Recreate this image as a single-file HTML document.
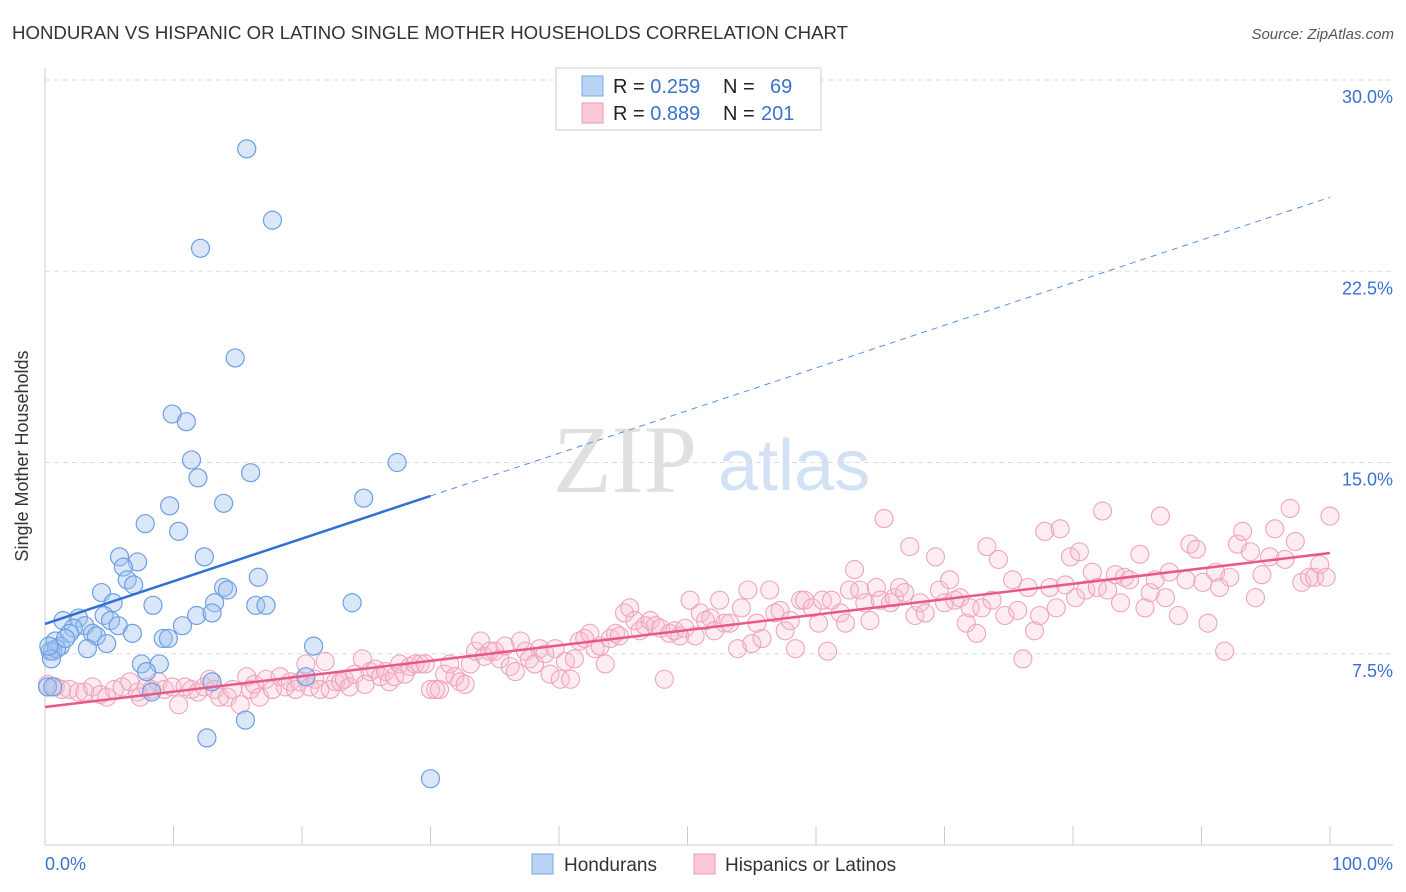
<!DOCTYPE html>
<html><head><meta charset="utf-8">
<style>
body{margin:0;background:#fff;font-family:"Liberation Sans",sans-serif;}
svg{display:block}
</style></head>
<body>
<svg id="chart" width="1406" height="892" xmlns="http://www.w3.org/2000/svg">
<text x="12" y="39" font-size="18.6" fill="#333" textLength="836" lengthAdjust="spacingAndGlyphs">HONDURAN VS HISPANIC OR LATINO SINGLE MOTHER HOUSEHOLDS CORRELATION CHART</text>
<text x="1394" y="39" font-size="15" fill="#555" font-style="italic" text-anchor="end">Source: ZipAtlas.com</text>
<g>
<text x="553" y="492" font-size="96" font-family="Liberation Serif,serif" fill="#e0e0e0">ZIP</text>
<text x="718" y="490" font-size="72" fill="#d3e1f5">atlas</text>
</g>
<g id="grid"></g>
<g id="axes"></g>
<g id="pink"></g>
<g id="blue"></g>
<g id="trends"></g>
<text x="28" y="456" font-size="18" fill="#333" text-anchor="middle" transform="rotate(-90 28 456)">Single Mother Households</text>
<g>
<rect x="556" y="68" width="265" height="62" fill="#fff" stroke="#ddd" stroke-width="1.5"/>
<rect x="582" y="76" width="21" height="20" fill="#b9d3f5" stroke="#7aa7e6"/>
<rect x="582" y="103" width="21" height="20" fill="#fbc8d7" stroke="#ee9ab4"/>
<text x="613" y="93" font-size="20" fill="#222">R = <tspan fill="#3a72d0">0.259</tspan><tspan x="723">N =</tspan><tspan x="770" fill="#3a72d0">69</tspan></text>
<text x="613" y="120" font-size="20" fill="#222">R = <tspan fill="#3a72d0">0.889</tspan><tspan x="723">N =</tspan><tspan x="761" fill="#3a72d0">201</tspan></text>
</g>
<g>
<rect x="532" y="854" width="21" height="20" fill="#b9d3f5" stroke="#7aa7e6"/>
<text x="564" y="871" font-size="19" fill="#333">Hondurans</text>
<rect x="694" y="854" width="21" height="20" fill="#fbc8d7" stroke="#ee9ab4"/>
<text x="725" y="871" font-size="19" fill="#333">Hispanics or Latinos</text>
</g>
</svg>
<script>
const yTicks=[7.5,15,22.5,30];
const yTickLabels=["7.5%","15.0%","22.5%","30.0%"];
const xTickCount=10;
const blueX=[15.7,17.7,12.1,14.8,9.9,11.0,11.4,11.9,16.0,27.4,24.8,13.9,9.7,7.8,10.4,12.4,5.8,7.2,6.1,16.6,6.4,6.9,13.9,14.2,4.4,5.3,8.4,13.2,16.4,17.2,23.9,4.6,11.8,13.0,1.4,2.6,3.1,5.1,5.7,10.7,2.2,1.9,6.8,3.7,9.2,9.6,4.0,4.8,0.8,1.2,3.3,20.9,0.4,0.6,0.9,0.5,7.5,8.9,7.9,20.3,13.0,8.3,0.2,0.6,15.6,12.6,30.0,0.3,1.6];
const blueY=[27.3,24.5,23.4,19.1,16.9,16.6,15.1,14.4,14.6,15.0,13.6,13.4,13.3,12.6,12.3,11.3,11.3,11.1,10.9,10.5,10.4,10.2,10.1,10.0,9.9,9.5,9.4,9.5,9.4,9.4,9.5,9.0,9.0,9.1,8.8,8.9,8.6,8.8,8.6,8.6,8.5,8.3,8.3,8.3,8.1,8.1,8.2,7.9,8.0,7.8,7.7,7.8,7.6,7.6,7.7,7.3,7.1,7.1,6.8,6.6,6.4,6.0,6.2,6.2,4.9,4.2,2.6,7.8,8.1];
const pinkX=[0.2,0.8,1.3,1.9,2.6,3.1,3.7,4.3,4.8,5.4,6.0,6.6,7.2,7.4,7.9,8.3,8.8,9.3,9.9,10.4,10.9,11.4,11.9,12.4,12.8,13.2,13.6,14.2,14.6,15.2,15.7,16.0,16.3,16.7,17.2,17.7,18.3,18.7,19.1,19.5,19.8,20.3,20.6,21.0,21.4,21.8,22.2,22.6,23.0,23.3,23.7,24.1,24.7,24.9,25.3,25.7,26.1,26.5,26.8,27.2,27.6,28.0,28.4,28.8,29.2,29.6,30.0,30.4,30.7,31.1,31.5,31.9,32.3,32.7,33.1,33.5,33.9,34.2,34.6,35.0,35.4,35.8,36.2,36.6,37.0,37.4,37.7,38.1,38.5,38.9,39.3,39.7,40.1,40.5,40.9,41.2,41.6,42.0,42.4,42.8,43.2,43.6,44.0,44.4,44.7,45.1,45.5,45.9,46.3,46.7,47.1,47.5,47.9,48.2,48.6,49.0,49.4,49.8,50.2,50.6,51.0,51.4,51.8,52.1,52.5,52.9,53.3,53.9,54.2,54.7,55.0,55.4,55.8,56.4,56.8,57.2,57.6,58.0,58.4,58.8,59.1,59.7,60.2,60.5,60.9,61.2,61.9,62.3,62.6,63.0,63.4,63.8,64.2,64.7,65.0,65.3,65.8,66.1,66.5,66.9,67.3,67.7,68.1,68.5,69.3,69.6,70.0,70.4,70.8,71.2,71.7,72.0,72.5,72.9,73.3,73.7,74.2,74.7,75.3,75.7,76.1,76.5,77.0,77.4,77.8,78.2,78.7,79.0,79.4,79.8,80.2,80.5,81.0,81.5,81.9,82.3,82.7,83.3,83.7,84.0,84.4,85.2,85.6,86.0,86.4,86.8,87.2,87.5,88.2,88.8,89.1,89.6,90.1,90.5,91.1,91.4,91.8,92.2,92.8,93.2,93.8,94.2,94.7,95.3,95.7,96.5,96.9,97.3,97.8,98.4,98.8,99.2,99.7,100.0];
const pinkY=[6.3,6.2,6.1,6.1,6.0,6.0,6.2,5.9,5.8,6.1,6.2,6.4,6.0,5.8,6.2,6.1,6.4,6.1,6.2,5.5,6.2,6.1,6.0,6.2,6.5,6.1,5.8,5.8,6.1,5.5,6.6,6.1,6.3,5.8,6.5,6.1,6.6,6.2,6.4,6.1,6.4,7.1,6.2,6.5,6.1,7.2,6.1,6.4,6.4,6.5,6.2,6.7,7.3,6.3,6.8,6.9,6.6,6.8,6.4,6.6,7.1,6.7,7.0,7.1,7.1,7.1,6.1,6.1,6.1,6.7,7.1,6.6,6.4,6.3,7.1,7.6,8.0,7.4,7.6,7.6,7.3,7.8,7.0,6.8,8.0,7.6,7.3,7.1,7.7,7.5,6.7,7.7,6.5,7.2,6.5,7.3,8.0,8.1,8.3,7.7,7.8,7.1,8.1,8.3,8.2,9.1,9.3,8.8,8.4,8.6,8.8,8.6,8.5,6.5,8.3,8.4,8.2,8.5,9.6,8.2,9.1,8.8,8.9,8.4,9.6,8.7,8.7,7.7,9.3,10.0,7.9,8.7,8.1,10.0,9.1,9.2,8.4,8.8,7.7,9.6,9.6,9.3,8.7,9.6,7.6,9.6,9.1,8.7,10.0,10.8,10.0,9.5,8.8,10.1,9.6,12.8,9.5,9.7,10.1,9.9,11.7,9.0,9.5,9.1,11.3,10.0,9.5,10.4,9.6,9.7,8.7,9.3,8.3,9.3,11.7,9.6,11.2,9.0,10.4,9.2,7.3,10.1,8.4,9.0,12.3,10.1,9.3,12.4,10.2,11.3,9.7,11.5,10.0,10.7,10.1,13.1,10.0,10.6,9.5,10.5,10.4,11.4,9.3,9.9,10.4,12.9,9.7,10.7,9.0,10.4,11.8,11.6,10.3,8.7,10.7,10.1,7.6,10.5,11.8,12.3,11.5,9.7,10.6,11.3,12.4,11.2,13.2,11.9,10.3,10.5,10.5,11.0,10.5,12.9];
const blueTrend=[8.67,25.4];
const pinkTrend=[5.41,11.45];
const blueSolidEnd=30;

const NS="http://www.w3.org/2000/svg";
const X0=45,X1=1330,YB=845,YT=80;
const xs=v=>X0+(X1-X0)*v/100;
const ys=v=>YB-(YB-YT)*v/30;
function mk(tag,attrs,parent){const e=document.createElementNS(NS,tag);for(const k in attrs)e.setAttribute(k,attrs[k]);parent.appendChild(e);return e;}
const grid=document.getElementById('grid'),axes=document.getElementById('axes');
yTicks.forEach((t,i)=>{
  const l=mk('line',{x1:X0,x2:1393,y1:ys(t),y2:ys(t),stroke:'#ddd','stroke-dasharray':'5,4'},grid);
  
  
  const tx=mk('text',{x:1393,y:ys(t)+23,'font-size':18,fill:'#3a72d0','text-anchor':'end'},axes);
  tx.textContent=yTickLabels[i];
  
  
});
const ya=mk('line',{x1:X0,x2:X0,y1:68,y2:YB,stroke:'#ccc'},axes);


const xa=mk('line',{x1:X0,x2:1393,y1:YB,y2:YB,stroke:'#ccc'},axes);


for(let i=1;i<=xTickCount;i++){
  const t=mk('line',{x1:xs(i*10),x2:xs(i*10),y1:826,y2:YB,stroke:'#ccc'},axes);
  
  
}
const xl0=mk('text',{x:45,y:870,'font-size':18,fill:'#3a72d0'},axes);xl0.textContent='0.0%';


const xl1=mk('text',{x:1393,y:870,'font-size':18,fill:'#3a72d0','text-anchor':'end'},axes);xl1.textContent='100.0%';


const pg=document.getElementById('pink');
pinkX.forEach((x,i)=>{
  const c=mk('circle',{cx:xs(x),cy:ys(pinkY[i]),r:9,fill:'rgba(248,190,208,0.28)',stroke:'#f0a3bd','stroke-width':1.1},pg);
  
  
});
const bg=document.getElementById('blue');
blueX.forEach((x,i)=>{
  const c=mk('circle',{cx:xs(x),cy:ys(blueY[i]),r:9,fill:'rgba(160,196,240,0.4)',stroke:'#6d9fe2','stroke-width':1.2},bg);
  
  
});
const tg=document.getElementById('trends');
const lin=(tr,x)=>tr[0]+(tr[1]-tr[0])*x/100;
const bs=mk('line',{x1:xs(0),y1:ys(lin(blueTrend,0)),x2:xs(blueSolidEnd),y2:ys(lin(blueTrend,blueSolidEnd)),stroke:'#2f6fd6','stroke-width':2.5},tg);


const bd=mk('line',{x1:xs(blueSolidEnd),y1:ys(lin(blueTrend,blueSolidEnd)),x2:xs(100),y2:ys(lin(blueTrend,100)),stroke:'#5b8fe0','stroke-width':1,'stroke-dasharray':'6,5'},tg);


const pl=mk('line',{x1:xs(0),y1:ys(lin(pinkTrend,0)),x2:xs(100),y2:ys(lin(pinkTrend,100)),stroke:'#e8588a','stroke-width':2.5},tg);


</script>
</body></html>
